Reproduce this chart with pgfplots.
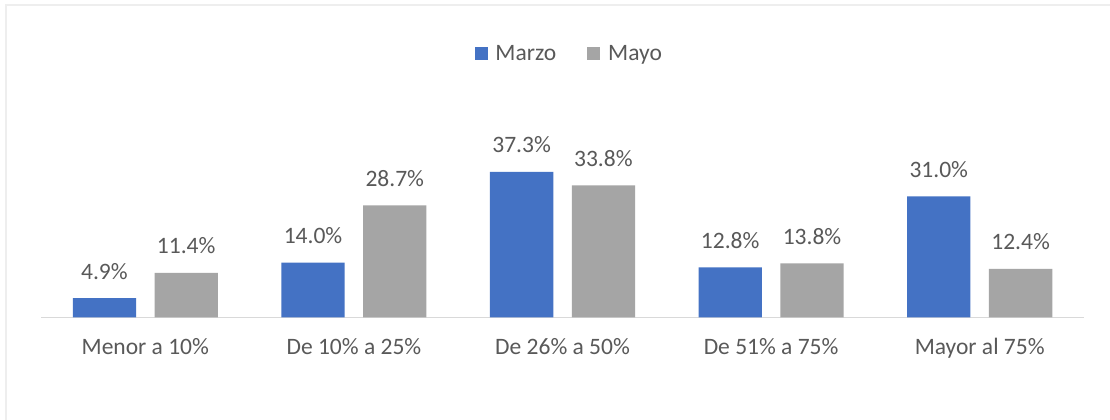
\documentclass[border=0pt]{standalone}
\usepackage{pgfplots}
\pgfplotsset{compat=1.18}
\usepackage{fontspec}
\setmainfont{Carlito}
\definecolor{cblue}{HTML}{4472C4}
\definecolor{cgray}{HTML}{A5A5A5}
\definecolor{ctext}{HTML}{595959}
\definecolor{caxis}{HTML}{D9D9D9}
\definecolor{cframe}{HTML}{EEEEEE}
\begin{document}
\begin{tikzpicture}
\useasboundingbox (0,0) rectangle (1110bp,420bp);
\fill[white] (0,0) rectangle (1110bp,420bp);
\draw[cframe, line width=1.5bp] (6bp,-5bp) |- (1115bp,415bp);
\begin{axis}[
  at={(41bp,102.7bp)}, anchor=south west,
  scale only axis, width=1043bp, height=156bp,
  xmin=-0.5, xmax=4.5, ymin=0, ymax=40,
  ybar,
  axis y line=none,
  axis x line*=bottom,
  x axis line style={caxis, line width=1.2bp, -},
  xtick={0,1,2,3,4}, major tick length=0pt,
  xticklabels={Menor a 10\%, De 10\% a 25\%, De 26\% a 50\%, De 51\% a 75\%, Mayor al 75\%},
  xticklabel style={font=\fontsize{23.6}{28}\selectfont, text=ctext, anchor=base, yshift=-37.7bp},
  bar width=63.3bp,
  /pgf/number format/assume math mode=true,
  nodes near coords={\pgfmathprintnumber[fixed,fixed zerofill,precision=1]{\pgfplotspointmeta}\%},
  every node near coord/.append style={font=\fontsize{23.6}{28}\selectfont, text=ctext, anchor=base, yshift=19bp},
  legend columns=2,
  legend style={at={(0.5,1.691)}, anchor=center, xshift=6.7bp, draw=none, fill=none,
    font=\fontsize{23.6}{28}\selectfont, text=ctext,
    /tikz/every even column/.append style={column sep=29bp}},
  legend image code/.code={\fill[#1] (0bp,-6.5bp) rectangle (13bp,6.5bp); \path (19bp,0bp);},
]
\addplot[bar shift=-40.9bp, fill=cblue, draw=none] coordinates {(0,4.9) (1,14.0) (2,37.3) (3,12.8) (4,31.0)};
\addplot[bar shift=40.9bp, fill=cgray, draw=none] coordinates {(0,11.4) (1,28.7) (2,33.8) (3,13.8) (4,12.4)};
\legend{Marzo, Mayo}
\end{axis}
\end{tikzpicture}
\end{document}
